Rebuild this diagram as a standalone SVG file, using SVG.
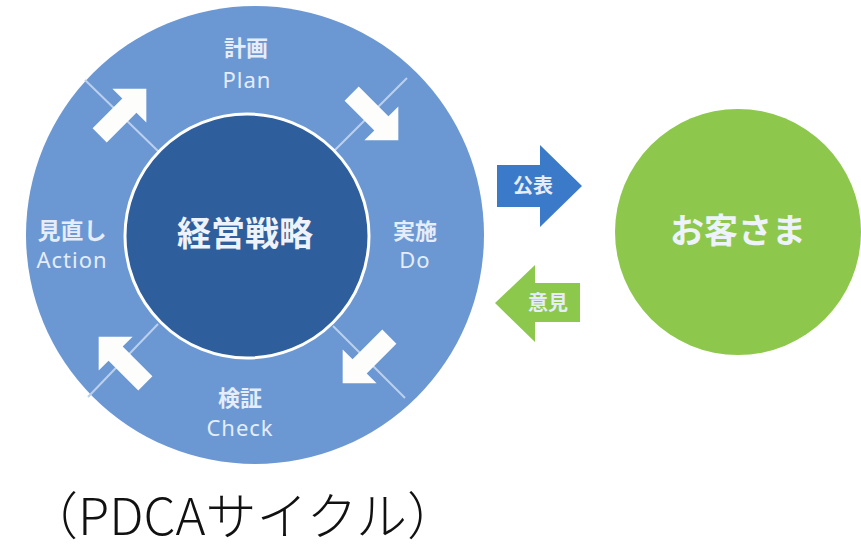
<svg xmlns="http://www.w3.org/2000/svg" width="861" height="549" viewBox="0 0 861 549">
<defs>
<style>
.lbl{font-family:"Noto Sans CJK JP","Noto Sans",sans-serif;font-weight:bold;fill:#e4edf9;text-anchor:middle}
.en{font-family:"Noto Sans","Noto Sans CJK JP",sans-serif;font-weight:normal;letter-spacing:1px}
.big{font-family:"Noto Sans CJK JP",sans-serif;font-weight:bold;fill:#eef3fb;text-anchor:middle}
.div{stroke:#bcd0ee;stroke-width:2}
.warr{fill:#fdfdfb}
</style>
<polygon id="blk" points="-33,-10 9,-10 9,-24 33,0 9,24 9,10 -33,10"/>
</defs>
<rect width="861" height="549" fill="#ffffff"/>
<g id="ring">
<circle cx="255" cy="235" r="229" fill="#6b98d3"/>
</g>
<g id="connectors">
<line class="div" x1="85" y1="80" x2="160" y2="153"/>
<line class="div" x1="407" y1="78" x2="333" y2="152"/>
<line class="div" x1="88" y1="397" x2="158" y2="324"/>
<line class="div" x1="405" y1="398" x2="333" y2="326"/>
<use href="#blk" class="warr" transform="translate(123,112) rotate(-45)"/>
<use href="#blk" class="warr" transform="translate(375,117) rotate(45)"/>
<use href="#blk" class="warr" transform="translate(366,360) rotate(135)"/>
<use href="#blk" class="warr" transform="translate(122,360) rotate(-135)"/>
</g>
<g id="center">
<circle cx="247" cy="236" r="122" fill="#2f5e9c" stroke="#ffffff" stroke-width="3"/>
<text class="big" x="245" y="246" font-size="34">経営戦略</text>
</g>
<g id="plan">
<text class="lbl" font-size="22"><tspan x="246" y="56">計画</tspan><tspan class="en" x="247" y="88">Plan</tspan></text>
</g>
<g id="do">
<text class="lbl" font-size="22"><tspan x="415" y="239">実施</tspan><tspan class="en" x="415" y="268">Do</tspan></text>
</g>
<g id="check">
<text class="lbl" font-size="22"><tspan x="240" y="406">検証</tspan><tspan class="en" x="240" y="436">Check</tspan></text>
</g>
<g id="action">
<text class="lbl" font-size="22"><tspan x="72" y="239" font-size="23">見直し</tspan><tspan class="en" x="72" y="268">Action</tspan></text>
</g>
<g id="publish">
<polygon points="497,165 540,165 540,145 582,186 540,227 540,207 497,207" fill="#3b7ac9"/>
<text class="lbl" x="533" y="193" font-size="20">公表</text>
</g>
<g id="opinion">
<polygon points="495,303 535,265 535,283 580,283 580,322 535,322 535,342" fill="#8cc84c"/>
<text class="lbl" x="548" y="310" font-size="20">意見</text>
</g>
<g id="customer">
<circle cx="738" cy="232" r="123" fill="#8dc84d"/>
<text class="big" x="738" y="243" font-size="34">お客さま</text>
</g>
<g id="caption">
<text x="27" y="535" font-family="'Noto Sans CJK JP',sans-serif" font-weight="300" font-size="51" fill="#111111">（PDCAサイクル）</text>
</g>
</svg>
